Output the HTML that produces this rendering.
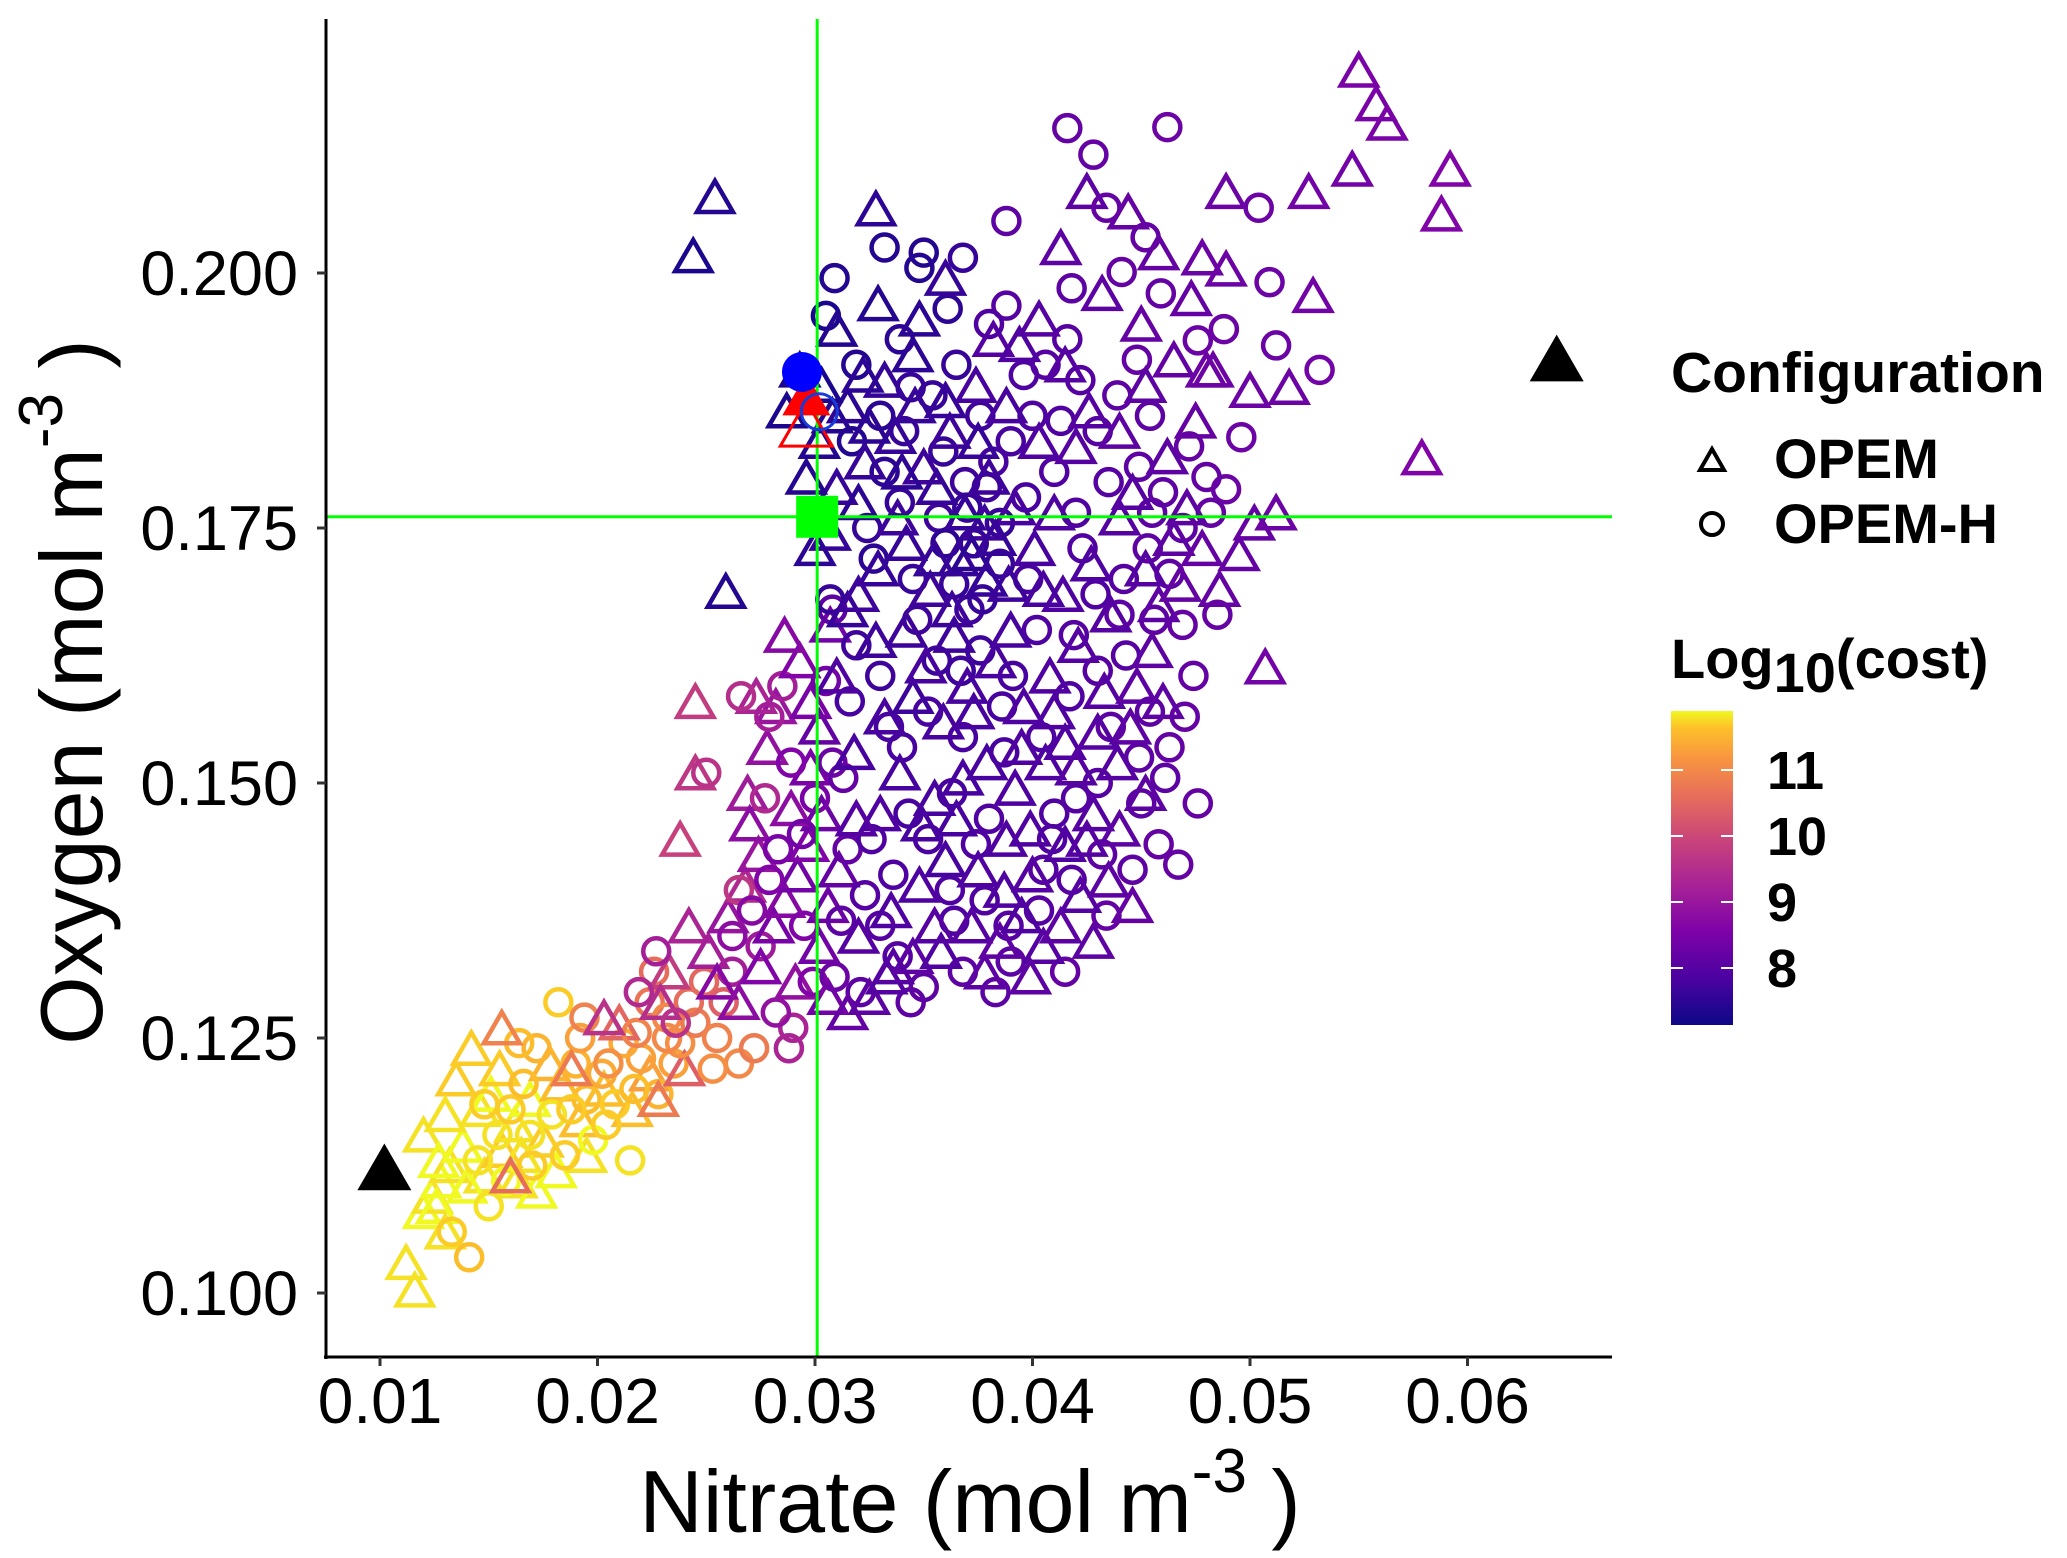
<!DOCTYPE html>
<html><head><meta charset="utf-8"><style>
html,body{margin:0;padding:0;background:#fff;}
svg{display:block;font-family:"Liberation Sans",sans-serif;}
</style></head><body>
<svg id="chart" width="2067" height="1558" viewBox="0 0 2067 1558" xmlns="http://www.w3.org/2000/svg">
<defs>
<linearGradient id="plasma" x1="0" y1="1" x2="0" y2="0">
<stop offset="0" stop-color="#0d0887"/><stop offset="0.15" stop-color="#4c02a1"/><stop offset="0.3" stop-color="#7e03a8"/><stop offset="0.45" stop-color="#a92395"/><stop offset="0.6" stop-color="#cc4778"/><stop offset="0.72" stop-color="#e56b5d"/><stop offset="0.85" stop-color="#f89540"/><stop offset="0.95" stop-color="#fdc328"/><stop offset="1" stop-color="#f0f921"/>
</linearGradient>
</defs>
<g id="marks"></g>
<g id="axes"></g>
<g>
<text x="1671" y="392" font-size="57" font-weight="bold">Configuration</text>
<polygon points="1700,470 1724,470 1712,449" fill="none" stroke="#000" stroke-width="4"/>
<text x="1774" y="478" font-size="56" font-weight="bold">OPEM</text>
<circle cx="1712" cy="524" r="11" fill="none" stroke="#000" stroke-width="4"/>
<text x="1774" y="543" font-size="56" font-weight="bold">OPEM-H</text>
<text x="1671" y="678" font-size="56" font-weight="bold">Log<tspan dy="14" font-size="56">10</tspan><tspan dy="-14">(cost)</tspan></text>
<rect x="1671" y="711" width="62" height="314" fill="url(#plasma)"/>
<g id="cbticks"></g>
</g>
</svg>
<script>
// data in mmol m^-3 : [nitrate, oxygen, log10 cost]
const triYellow=[[11.2,102.5,11.8],[11.6,99.8,11.8],[12.0,107.5,11.9],[12.4,109.0,11.8],[12.8,110.5,11.9],[13.2,112.0,11.8],[12.0,115.0,11.8],[13.5,120.5,11.7],[14.2,123.5,11.7],[14.6,117.5,11.8],[15.1,119.0,11.9],[13.8,114.0,11.9],[14.8,111.0,11.8],[15.6,113.5,11.7],[16.2,116.0,11.8],[16.9,118.5,11.9],[17.5,114.5,11.7],[18.1,111.5,11.9],[18.3,120.0,11.6],[12.6,108.0,11.9],[13.0,105.5,11.8],[16.3,110.5,11.8],[17.8,122.0,11.5],[19.2,116.5,11.6],[21.6,117.5,11.6],[22.4,121.0,11.3],[13.0,117.0,11.8],[14.0,110.0,11.9],[15.5,121.5,11.7],[16.5,113.0,11.8],[17.2,109.5,11.9],[19.5,113.0,11.8],[20.3,119.5,11.6],[12.7,112.5,11.9]];
const triOrange=[[15.6,125.5,10.9],[18.8,121.5,10.8],[22.8,118.5,10.8],[24.0,121.5,10.4],[16.0,111.0,10.6],[21.0,126.0,10.5]];
const cirYellow=[[13.3,106.0,11.7],[14.1,103.5,11.6],[14.5,113.0,11.8],[15.4,115.5,11.8],[16.0,118.0,11.7],[16.6,120.5,11.6],[17.2,124.0,11.5],[17.9,117.5,11.8],[18.5,113.5,11.7],[19.0,122.5,11.5],[19.5,119.0,11.6],[20.2,121.5,11.4],[20.8,118.5,11.7],[21.5,113.0,11.8],[22.0,123.0,11.3],[22.8,119.5,11.5],[23.5,122.5,11.3],[18.2,128.5,11.7],[16.4,124.5,11.6],[15.0,108.5,11.8],[17.0,112.5,11.7],[19.8,115.0,11.9],[21.2,124.5,11.4],[14.8,118.5,11.7],[16.9,115.5,11.8],[18.8,118.0,11.7],[20.4,116.5,11.7],[21.7,120.0,11.6],[19.2,125.0,11.3],[15.8,111.0,11.9]];
const cirOrange=[[20.5,122.5,11.1],[21.8,125.5,10.9],[22.4,128.5,10.7],[23.2,127.0,11.0],[23.8,124.5,11.1],[24.5,126.5,10.8],[25.5,125.0,10.9],[26.5,122.5,11.0],[27.2,124.0,10.8],[24.9,130.5,10.5],[22.6,131.5,10.6],[25.8,128.5,10.4],[19.4,127.0,10.9],[23.2,125.0,11.0],[24.2,128.5,10.6],[25.3,122.0,11.1]];
const triPink=[[20.3,126.5,9.6],[23.3,131.0,9.8],[24.2,135.5,9.3],[25.1,133.0,9.2],[26.0,136.5,9.0],[26.8,139.5,9.4],[27.4,142.5,9.0],[24.5,150.5,9.7],[24.5,157.5,9.8],[23.8,144.0,9.9],[26.9,148.5,9.1],[27.8,153.0,8.9],[28.2,157.0,9.0],[27.3,158.0,9.3],[22.9,128.0,9.5]];
const cirPink=[[21.9,129.5,9.4],[22.7,133.5,9.2],[23.6,126.5,9.6],[25.0,151.0,9.6],[26.5,139.5,9.7],[26.6,158.5,9.5],[27.9,156.5,9.2],[28.5,159.5,9.2],[27.7,148.5,9.4],[28.8,124.0,9.3],[29.0,126.0,9.3],[26.2,131.5,9.2],[27.5,134.0,9.1]];
const triBand=[[25.5,130.0,8.7],[26.5,128.0,8.8],[27.5,131.5,8.6],[28.1,135.5,8.5],[28.6,138.0,8.7],[29.2,140.5,8.4],[29.7,143.5,8.6],[30.3,146.5,8.3],[28.9,147.0,8.8],[29.8,151.0,8.5],[30.2,155.0,8.2],[29.3,161.5,8.6],[28.6,164.0,8.7],[30.7,165.0,8.4],[29.1,130.0,8.9],[30.2,133.5,8.4],[30.6,137.5,8.3],[31.1,141.0,8.2],[27.0,145.5,8.8],[29.8,157.5,8.5],[30.6,128.5,8.4]];
const cirBand=[[26.2,135.0,8.8],[27.1,137.5,8.7],[27.9,140.5,8.6],[28.3,143.5,8.5],[29.4,145.0,8.4],[30.0,148.5,8.5],[30.8,152.0,8.3],[31.3,150.5,8.2],[30.5,160.0,8.4],[30.8,167.0,8.1],[29.9,130.5,8.6],[30.9,131.0,8.3],[28.2,127.5,8.9],[31.5,143.5,8.2],[29.5,136.0,8.6],[28.9,152.0,8.6]];
const triBlob=[[31.5,127.0,8.2],[32.5,128.5,8.1],[33.3,130.5,8.0],[34.5,132.5,8.1],[35.8,133.0,7.9],[37.2,135.5,8.0],[38.5,134.0,8.1],[39.5,136.5,7.9],[40.5,133.5,8.0],[41.3,135.5,8.1],[42.2,138.5,8.0],[43.5,140.0,8.1],[32.0,134.5,8.0],[33.5,137.0,7.9],[34.8,139.5,7.9],[36.0,142.0,7.8],[37.5,141.0,7.9],[38.8,144.0,7.9],[40.0,140.5,8.0],[41.5,143.5,7.9],[42.8,146.5,8.0],[44.0,145.0,8.1],[45.2,148.5,8.1],[35.5,148.0,7.8],[33.0,146.5,7.9],[36.8,150.0,7.8],[39.2,149.0,7.9],[40.6,151.5,7.9],[31.8,152.5,7.8],[33.2,156.0,7.8],[34.5,158.0,7.7],[35.9,155.5,7.8],[37.0,159.0,7.8],[38.3,161.5,7.8],[39.6,157.0,7.9],[40.8,160.0,7.9],[42.1,163.0,8.0],[43.3,158.5,8.0],[44.5,155.0,8.1],[46.0,157.5,8.1],[45.5,162.5,8.1],[32.8,163.5,7.7],[36.4,164.0,7.7],[41.5,153.5,7.9],[31.5,166.5,7.6],[32.9,170.5,7.6],[34.2,173.0,7.6],[35.3,168.5,7.7],[36.6,171.5,7.6],[37.8,175.0,7.7],[38.9,169.0,7.7],[40.1,172.5,7.8],[41.4,168.0,7.9],[42.7,171.0,7.9],[44.0,175.5,8.0],[45.2,170.5,8.0],[46.5,173.5,8.1],[47.1,176.5,8.1],[43.6,166.0,8.0],[39.2,176.5,7.8],[48.6,168.5,8.2],[50.2,175.0,8.2],[51.2,176.0,8.3],[49.5,172.0,8.2],[31.0,178.5,7.6],[32.3,181.0,7.6],[33.7,183.5,7.6],[35.0,180.5,7.7],[36.2,184.0,7.7],[37.4,188.5,7.8],[38.8,186.5,7.8],[40.3,183.0,7.9],[41.5,190.5,8.0],[42.6,186.0,8.0],[44.0,184.0,8.1],[45.2,188.5,8.1],[46.5,191.0,8.2],[47.5,185.0,8.2],[39.4,192.5,7.9],[33.2,189.0,7.6],[34.6,186.5,7.6],[30.7,174.0,7.6]];
const triExtra=[[33.8,175.5,7.7],[35.6,178.5,7.6],[36.9,176.0,7.6],[37.2,172.0,7.5],[37.9,169.5,7.6],[38.3,173.5,7.6],[36.3,166.5,7.7],[35.1,161.0,7.8],[33.9,150.5,7.8],[34.9,145.5,7.8],[36.5,146.0,7.8],[37.9,151.5,7.8],[38.7,139.0,7.9],[39.9,145.0,7.9],[42.0,151.0,8.0],[43.9,151.5,8.0],[44.8,159.0,8.1],[43.0,154.5,8.0],[41.0,156.5,7.9],[39.0,164.5,7.8],[40.5,168.5,7.8],[45.8,167.0,8.1],[46.8,169.0,8.2],[47.8,172.5,8.2],[44.6,178.0,8.0],[42.0,182.5,8.0],[38.0,179.5,7.7],[36.0,187.0,7.6],[34.0,180.0,7.5],[32.0,177.0,7.5],[32.5,184.5,7.5],[34.8,195.0,7.5],[33.6,131.5,8.0],[35.5,135.5,8.0],[37.8,131.0,8.1],[39.9,130.5,8.1],[42.8,134.0,8.1],[44.6,137.5,8.2],[31.9,146.0,8.0],[31.0,160.0,7.9],[32.0,168.0,7.7],[48.0,190.0,8.3],[50.0,188.0,8.3],[46.2,181.5,8.1],[41.0,176.0,7.9],[35.5,171.5,7.6],[37.3,156.5,7.8],[42.5,144.0,8.0],[34.2,164.5,7.7],[39.5,153.0,7.9]];
const triDark=[[29.3,190.0,7.3],[30.2,183.0,7.4],[30.8,185.5,7.4],[31.5,186.5,7.5],[32.2,189.5,7.5],[32.9,196.5,7.4],[34.5,191.5,7.5],[36.0,199.0,7.6],[37.5,183.0,7.6],[30.0,172.5,7.5],[29.6,179.5,7.4],[31.0,194.0,7.4],[28.7,186.0,7.3],[30.3,188.5,7.3],[25.4,207.0,7.4],[24.4,201.2,7.3],[25.9,168.3,7.4],[32.8,205.8,7.5]];
const triUpper=[[38.2,193.0,8.0],[41.3,202.0,8.1],[42.5,207.5,8.1],[44.4,205.5,8.2],[45.8,201.5,8.2],[47.8,201.0,8.3],[47.3,197.0,8.2],[45.0,194.5,8.2],[43.2,197.5,8.1],[40.3,195.0,8.0],[55.0,219.4,8.5],[55.8,216.1,8.5],[56.3,214.2,8.5],[59.2,209.7,8.6],[54.7,209.7,8.4],[58.8,205.3,8.6],[57.9,181.4,8.6],[52.9,197.3,8.4],[50.7,160.9,8.4],[48.9,199.9,8.3],[48.3,190.0,8.3],[51.8,188.3,8.3],[48.9,207.5,8.3],[52.7,207.5,8.4]];
const cirBlob=[[32.1,129.5,8.1],[33.8,133.0,8.0],[35.0,130.0,8.1],[36.4,136.5,7.9],[37.8,138.5,7.9],[39.0,132.5,8.1],[40.3,137.5,8.0],[41.8,140.5,8.0],[43.2,143.0,8.1],[44.6,141.5,8.1],[45.8,144.0,8.2],[46.7,142.0,8.2],[46.1,150.5,8.1],[44.9,152.5,8.1],[43.0,150.0,8.0],[41.0,147.0,7.9],[38.0,146.5,7.9],[35.2,144.5,7.8],[33.6,141.0,7.9],[32.3,139.0,8.0],[31.6,158.0,7.8],[33.0,160.5,7.7],[34.0,153.5,7.8],[35.6,162.0,7.7],[36.8,154.5,7.8],[38.6,157.5,7.8],[40.2,165.0,7.9],[41.7,158.5,7.9],[43.0,161.0,8.0],[44.3,162.5,8.0],[45.6,166.0,8.1],[46.9,165.5,8.2],[47.4,160.5,8.2],[48.5,166.5,8.2],[46.3,170.5,8.1],[42.3,173.0,7.9],[37.1,167.0,7.7],[34.7,166.0,7.7],[32.4,175.0,7.6],[33.9,177.5,7.6],[35.7,176.0,7.7],[36.9,179.5,7.7],[38.2,181.5,7.8],[39.7,178.0,7.8],[41.0,180.5,7.9],[42.0,176.5,7.9],[43.5,179.5,8.0],[44.9,181.0,8.1],[46.0,178.5,8.1],[47.2,183.0,8.2],[48.0,180.0,8.2],[33.0,186.0,7.5],[34.1,184.5,7.6],[35.4,188.0,7.6],[36.5,191.0,7.6],[37.9,179.0,7.7],[40.0,186.0,7.9],[42.2,189.5,8.0],[43.9,188.0,8.1],[45.4,186.0,8.1],[44.8,191.5,8.2],[41.6,193.5,8.0],[39.6,190.0,7.9],[36.1,196.5,7.5],[34.8,200.5,7.4],[35.0,202.0,7.4],[33.9,193.5,7.5],[31.9,191.0,7.4],[30.5,195.8,7.3],[30.7,168.0,7.6],[38.5,171.5,7.6],[37.3,173.5,7.6],[36.4,169.5,7.6],[37.6,163.0,7.7],[39.1,160.5,7.8],[42.9,168.5,7.9],[44.2,170.0,8.0],[45.4,157.0,8.1],[47.0,156.5,8.2],[38.7,153.0,7.8],[40.9,144.5,7.9],[36.2,139.5,7.9]];
const cirExtra=[[34.5,170.0,7.6],[36.0,173.5,7.5],[37.0,177.0,7.6],[38.5,175.5,7.6],[37.7,168.0,7.6],[36.7,161.0,7.7],[35.2,157.0,7.8],[34.3,147.0,7.8],[36.3,149.0,7.8],[37.4,144.0,7.9],[38.9,136.0,8.0],[40.5,141.5,8.0],[42.0,148.5,8.0],[43.6,155.5,8.1],[45.0,148.0,8.1],[46.3,153.5,8.2],[47.6,148.0,8.2],[46.9,175.0,8.1],[45.5,176.5,8.1],[43.0,184.5,8.0],[41.3,185.5,7.9],[39.0,183.5,7.8],[37.6,186.0,7.7],[35.9,182.5,7.6],[33.2,180.5,7.5],[31.7,183.5,7.4],[32.7,172.0,7.5],[31.9,163.5,7.7],[33.4,155.5,7.8],[32.6,144.5,7.9],[33.0,136.0,8.0],[34.4,128.5,8.1],[36.8,131.5,8.1],[38.3,129.5,8.1],[41.5,131.5,8.2],[43.4,137.0,8.2],[31.2,136.5,8.1],[40.4,154.5,7.9],[41.9,164.5,8.0],[39.8,170.0,7.8],[44.0,166.5,8.1],[45.3,173.0,8.1],[48.2,176.5,8.2],[40.6,191.0,8.0],[38.0,195.0,7.9],[36.8,201.5,7.6],[33.2,202.5,7.4],[30.9,199.5,7.4]];
const cirUpper=[[41.6,214.2,8.2],[46.2,214.3,8.3],[42.8,211.6,8.2],[50.4,206.4,8.3],[38.8,205.1,8.1],[43.4,206.4,8.2],[44.1,200.1,8.2],[38.8,196.8,8.0],[50.9,199.1,8.3],[51.2,192.9,8.3],[49.6,183.9,8.3],[48.9,178.8,8.3],[53.2,190.5,8.4],[47.6,193.4,8.3],[45.9,198.0,8.2],[41.8,198.5,8.1],[45.2,203.5,8.2],[34.4,188.8,7.6],[48.8,194.5,8.3]];
const refTriangles=[[10.2,111.6],[64.1,190.9]];
const bestPoints={blueCircle:[29.4,190.3],redTriangle:[29.6,187.4],redOpenTriangle:[29.6,184.5],blueOpenCircle:[30.2,186.4],greenSquare:[30.1,176.1]};
const targetN=[30.1];const targetO=[176.1];
const xTicks=[0.01,0.02,0.03,0.04,0.05,0.06];
const yTicks=[0.100,0.125,0.150,0.175,0.200];
const cbTicks=[8,9,10,11];
const costMin=7.14,costMax=11.9;

const NS="http://www.w3.org/2000/svg";
function X(n){return 380+(n-10)*21.75;}
function Y(o){return 273+(200-o)*10.2;}
function CB(c){return 968-(c-8)*66;}
const stops=[[0,[13,8,135]],[0.15,[76,2,161]],[0.3,[126,3,168]],[0.45,[169,35,149]],[0.6,[204,71,120]],[0.72,[229,107,93]],[0.85,[248,149,64]],[0.95,[253,195,40]],[1,[240,249,33]]];
function col(c){let t=(c-costMin)/(costMax-costMin);t=Math.max(0,Math.min(1,t));
for(let i=1;i<stops.length;i++){if(t<=stops[i][0]){const a=stops[i-1],b=stops[i];const f=(t-a[0])/(b[0]-a[0]);
const r=a[1].map((v,k)=>Math.round(v+(b[1][k]-v)*f));return `rgb(${r[0]},${r[1]},${r[2]})`;}}return "rgb(240,249,33)";}
function mk(tag,attrs,parent){const e=document.createElementNS(NS,tag);for(const k in attrs)e.setAttribute(k,attrs[k]);parent.appendChild(e);return e;}
const marks=document.getElementById('marks');
function tri(cx,cy,s){const h=s*0.866;return `${cx-s/2},${cy+h/3} ${cx+s/2},${cy+h/3} ${cx},${cy-2*h/3}`;}
function drawTri(arr){arr.forEach(p=>{const e=mk('polygon',{points:tri(X(p[0]),Y(p[1]),36),fill:'none',stroke:col(p[2]),'stroke-width':4.5},marks);

});}
function drawCir(arr){arr.forEach(p=>{const e=mk('circle',{cx:X(p[0]),cy:Y(p[1]),r:13,fill:'none',stroke:col(p[2]),'stroke-width':4.5},marks);

});}
drawTri(triYellow);drawCir(cirYellow);drawTri(triOrange);drawCir(cirOrange);
drawTri(triPink);drawCir(cirPink);drawTri(triBand);drawCir(cirBand);
drawTri(triUpper);drawCir(cirUpper);drawCir(cirBlob);drawCir(cirExtra);drawTri(triBlob);drawTri(triExtra);drawTri(triDark);
let e=mk('line',{x1:X(targetN[0]),x2:X(targetN[0]),y1:19,y2:1357,stroke:'#00ff00','stroke-width':3},marks);


e=mk('line',{x1:326,x2:1612,y1:Y(targetO[0]),y2:Y(targetO[0]),stroke:'#00ff00','stroke-width':3},marks);


refTriangles.forEach(p=>{const t=mk('polygon',{points:tri(X(p[0]),Y(p[1]),54),fill:'#000'},marks);

});
const bp=bestPoints;
e=mk('polygon',{points:tri(X(bp.redOpenTriangle[0]),Y(bp.redOpenTriangle[1]),52),fill:'none',stroke:'#ff0000','stroke-width':3},marks);


e=mk('polygon',{points:tri(X(bp.redTriangle[0]),Y(bp.redTriangle[1]),48),fill:'#ff0000'},marks);


e=mk('circle',{cx:X(bp.blueOpenCircle[0]),cy:Y(bp.blueOpenCircle[1]),r:18,fill:'none',stroke:'#1a3ad8','stroke-width':3},marks);


e=mk('circle',{cx:X(bp.blueCircle[0]),cy:Y(bp.blueCircle[1]),r:20,fill:'#0000ff'},marks);


e=mk('rect',{x:X(bp.greenSquare[0])-21,y:Y(bp.greenSquare[1])-21,width:42,height:42,fill:'#00ff00'},marks);



const axes=document.getElementById('axes');
e=mk('line',{x1:326,x2:326,y1:19,y2:1359,stroke:'#000','stroke-width':3},axes);


e=mk('line',{x1:324,x2:1612,y1:1357,y2:1357,stroke:'#000','stroke-width':3},axes);


xTicks.forEach(v=>{const x=X(v*1000);
const t=mk('line',{x1:x,x2:x,y1:1357,y2:1366,stroke:'#333','stroke-width':3},axes);


const l=mk('text',{x:x,y:1423,'font-size':64,'text-anchor':'middle',fill:'#000'},axes);l.textContent=v.toFixed(2);

});
yTicks.forEach(v=>{const y=Y(v*1000);
const t=mk('line',{x1:317,x2:326,y1:y,y2:y,stroke:'#333','stroke-width':3},axes);


const l=mk('text',{x:298,y:y+22,'font-size':63,'text-anchor':'end',fill:'#000'},axes);l.textContent=v.toFixed(3);

});
let xt=mk('text',{x:970,y:1532,'font-size':88,'text-anchor':'middle'},axes);
xt.innerHTML='Nitrate (mol m<tspan dy="-40" font-size="62">-3</tspan><tspan dy="40"> )</tspan>';


let yt=mk('text',{x:0,y:0,'font-size':88,'text-anchor':'middle',transform:'translate(102,692) rotate(-90)'},axes);
yt.innerHTML='Oxygen (mol m<tspan dy="-40" font-size="62">-3</tspan><tspan dy="40"> )</tspan>';


const cbg=document.getElementById('cbticks');
cbTicks.forEach(v=>{const y=CB(v);
let a=mk('line',{x1:1671,x2:1683,y1:y,y2:y,stroke:'#fff','stroke-width':2},cbg);


a=mk('line',{x1:1721,x2:1733,y1:y,y2:y,stroke:'#fff','stroke-width':2},cbg);


const l=mk('text',{x:1767,y:y+19,'font-size':54,'font-weight':'bold'},cbg);l.textContent=v;

});
</script>
</body></html>
